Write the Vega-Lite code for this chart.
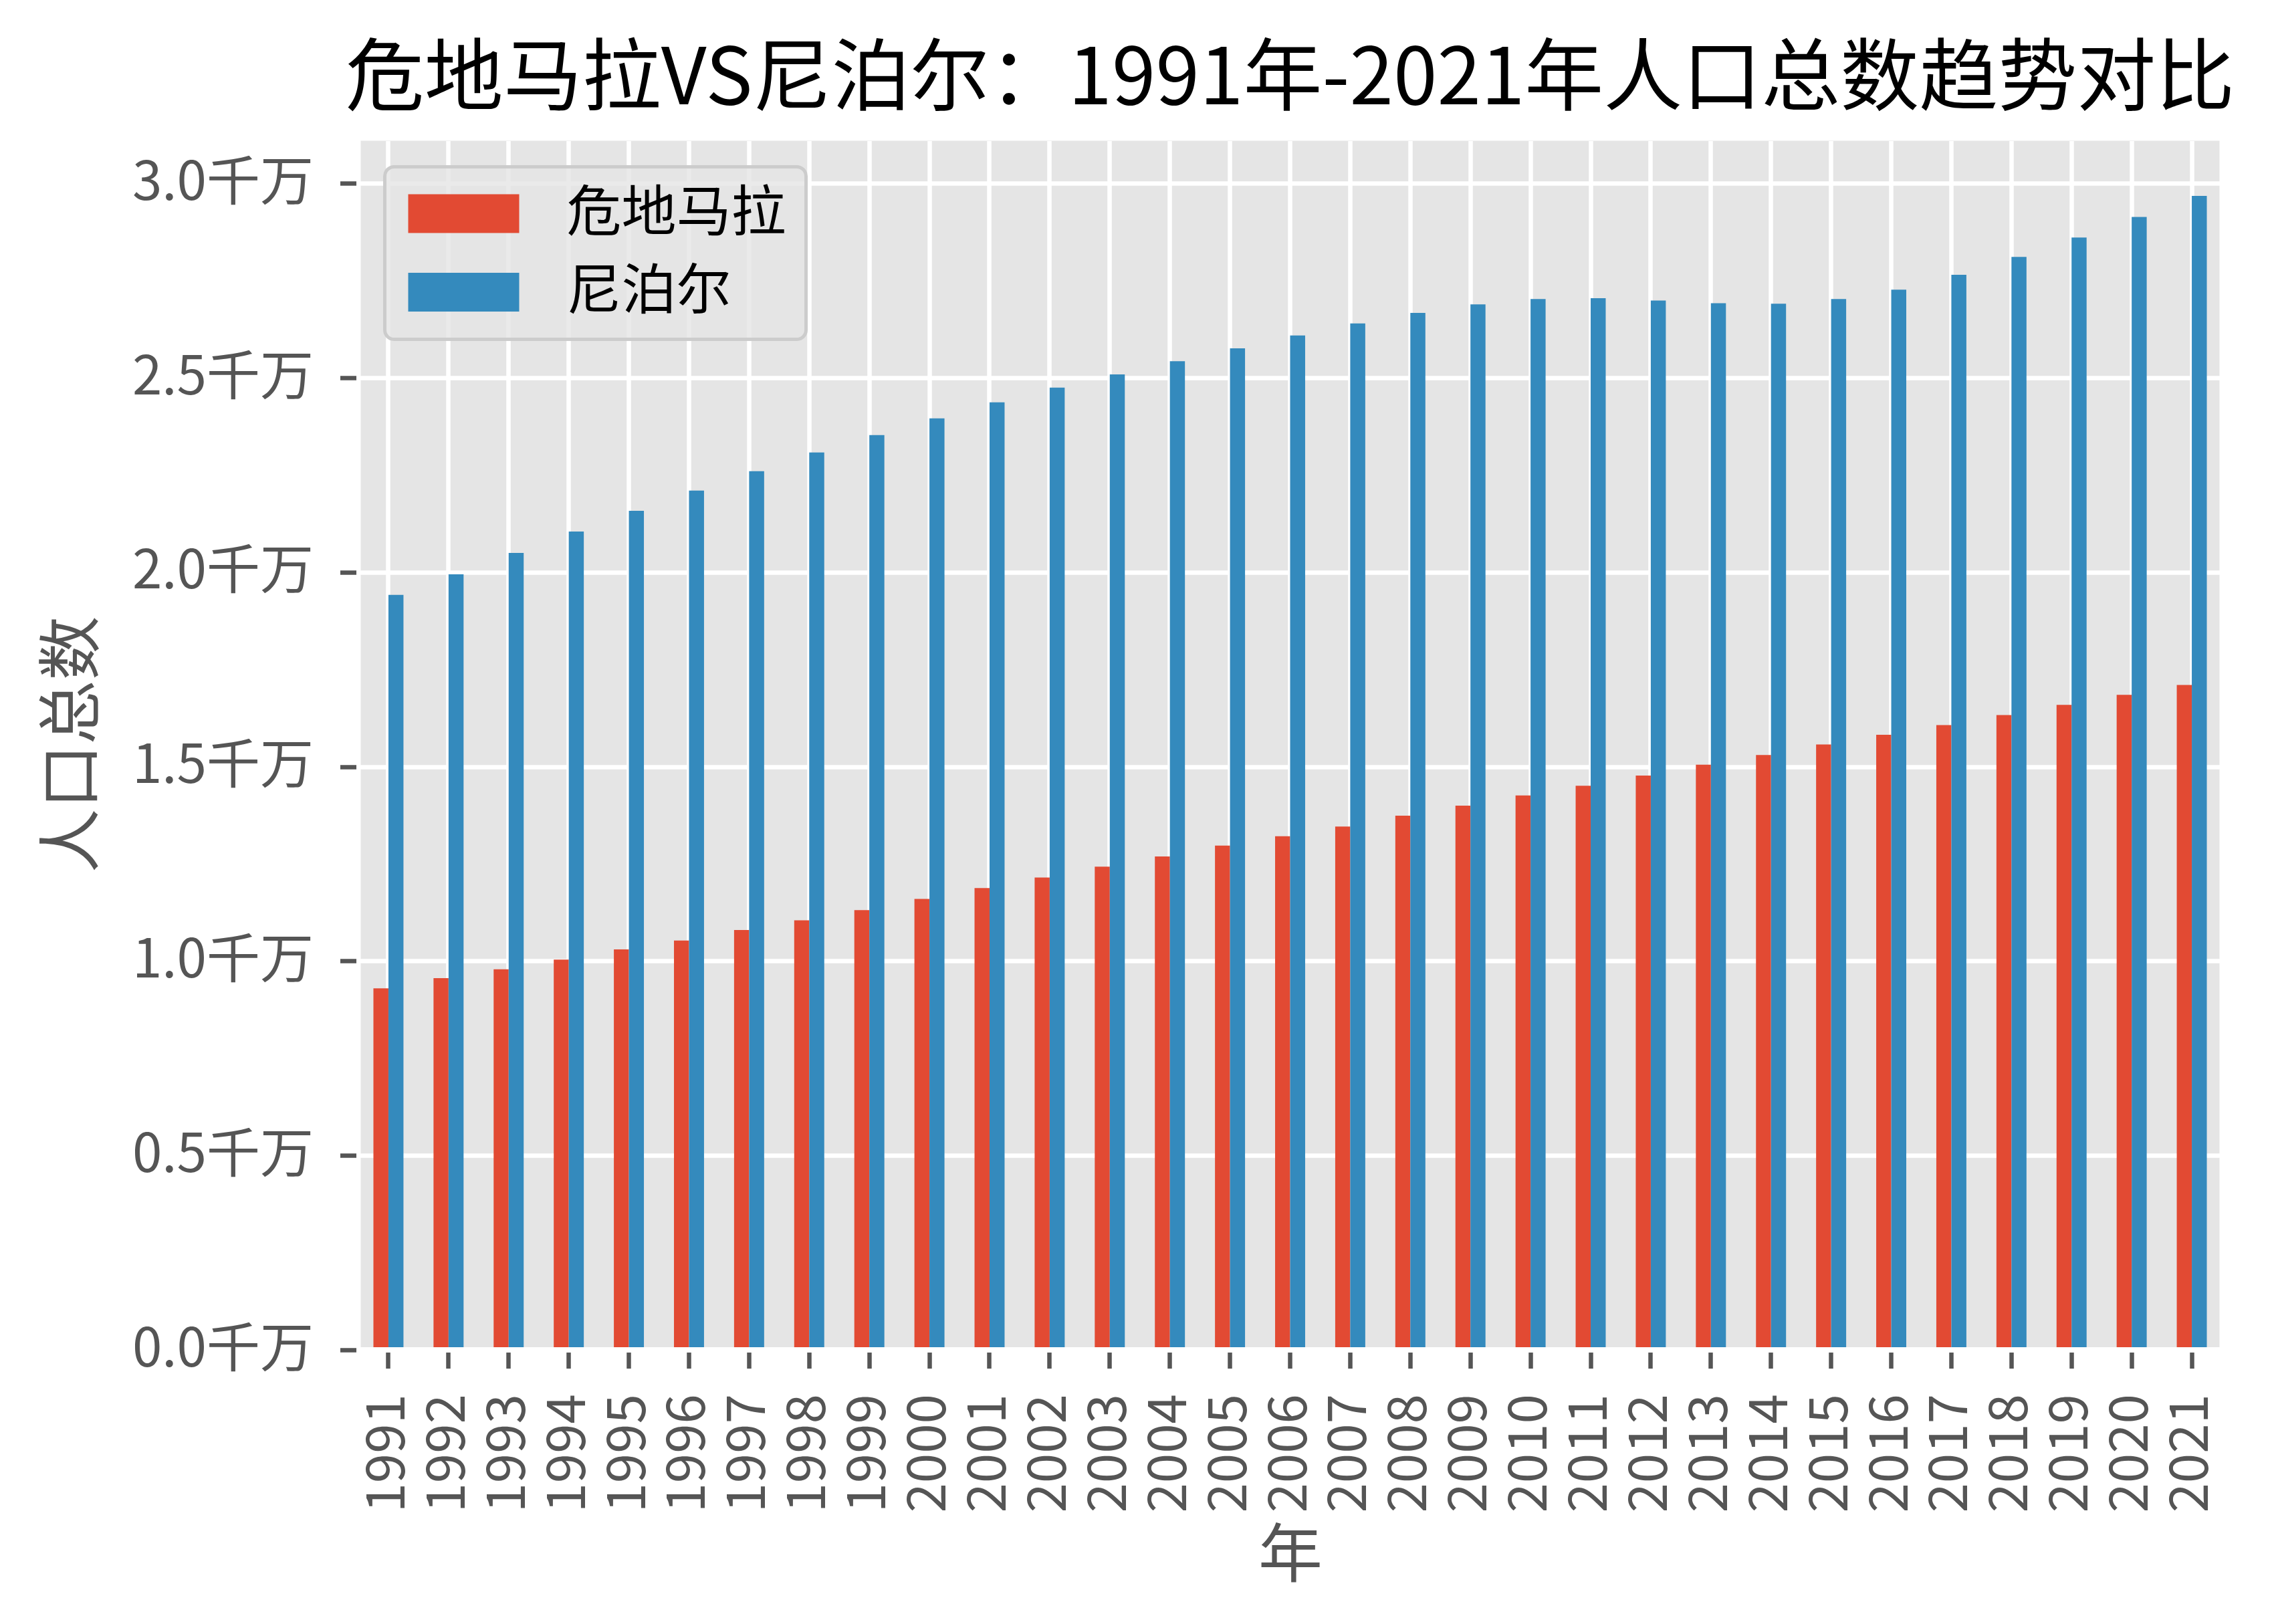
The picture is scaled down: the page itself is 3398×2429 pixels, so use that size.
{
  "$schema": "https://vega.github.io/schema/vega-lite/v6.json",
  "width": 2787,
  "height": 1812,
  "autosize": {"type": "none"},
  "padding": {"left": 536, "top": 207, "right": 75, "bottom": 410},
  "background": "#FFFFFF",
  "title": {
    "text": "危地马拉VS尼泊尔：1991年-2021年人口总数趋势对比",
    "font": "Noto Sans CJK SC",
    "fontSize": 118,
    "fontWeight": "normal",
    "color": "#000000",
    "anchor": "middle",
    "offset": 26
  },
  "config": {
    "view": {"fill": "#E5E5E5", "stroke": "#FFFFFF", "strokeWidth": 7},
    "axis": {
      "domain": false,
      "gridColor": "#FFFFFF",
      "gridWidth": 6.5,
      "gridOpacity": 1,
      "tickColor": "#555555",
      "tickSize": 24,
      "tickWidth": 6.5,
      "labelColor": "#555555",
      "labelFont": "Noto Sans CJK SC",
      "labelFontSize": 80,
      "labelLimit": 0,
      "titleFont": "Noto Sans CJK SC",
      "titleFontSize": 96,
      "titleColor": "#555555",
      "titleFontWeight": "normal",
      "offset": 3.5
    },
    "legend": {
      "orient": "none",
      "legendX": 39.5,
      "legendY": 42.5,
      "padding": 29,
      "fillColor": "rgba(229,229,229,0.8)",
      "strokeColor": "#CCCCCC",
      "strokeWidth": 5,
      "cornerRadius": 14,
      "symbolType": "M-0.8537,-0.7073H3.195V0.7073H-0.8537Z",
      "symbolSize": 6724,
      "symbolStrokeWidth": 0,
      "symbolOpacity": 1,
      "labelFont": "Noto Sans CJK SC",
      "labelFontSize": 82,
      "labelColor": "#000000",
      "labelLimit": 0,
      "labelOffset": 161,
      "rowPadding": 35.5
    }
  },
  "data": {
    "values": [
      {"year": 1991, "country": "危地马拉", "population": 9300000},
      {"year": 1992, "country": "危地马拉", "population": 9560000},
      {"year": 1993, "country": "危地马拉", "population": 9790000},
      {"year": 1994, "country": "危地马拉", "population": 10040000},
      {"year": 1995, "country": "危地马拉", "population": 10300000},
      {"year": 1996, "country": "危地马拉", "population": 10530000},
      {"year": 1997, "country": "危地马拉", "population": 10800000},
      {"year": 1998, "country": "危地马拉", "population": 11050000},
      {"year": 1999, "country": "危地马拉", "population": 11310000},
      {"year": 2000, "country": "危地马拉", "population": 11600000},
      {"year": 2001, "country": "危地马拉", "population": 11880000},
      {"year": 2002, "country": "危地马拉", "population": 12150000},
      {"year": 2003, "country": "危地马拉", "population": 12430000},
      {"year": 2004, "country": "危地马拉", "population": 12690000},
      {"year": 2005, "country": "危地马拉", "population": 12970000},
      {"year": 2006, "country": "危地马拉", "population": 13210000},
      {"year": 2007, "country": "危地马拉", "population": 13460000},
      {"year": 2008, "country": "危地马拉", "population": 13740000},
      {"year": 2009, "country": "危地马拉", "population": 14000000},
      {"year": 2010, "country": "危地马拉", "population": 14260000},
      {"year": 2011, "country": "危地马拉", "population": 14510000},
      {"year": 2012, "country": "危地马拉", "population": 14770000},
      {"year": 2013, "country": "危地马拉", "population": 15050000},
      {"year": 2014, "country": "危地马拉", "population": 15300000},
      {"year": 2015, "country": "危地马拉", "population": 15570000},
      {"year": 2016, "country": "危地马拉", "population": 15820000},
      {"year": 2017, "country": "危地马拉", "population": 16070000},
      {"year": 2018, "country": "危地马拉", "population": 16330000},
      {"year": 2019, "country": "危地马拉", "population": 16590000},
      {"year": 2020, "country": "危地马拉", "population": 16850000},
      {"year": 2021, "country": "危地马拉", "population": 17100000},
      {"year": 1991, "country": "尼泊尔", "population": 19420000},
      {"year": 1992, "country": "尼泊尔", "population": 19950000},
      {"year": 1993, "country": "尼泊尔", "population": 20500000},
      {"year": 1994, "country": "尼泊尔", "population": 21050000},
      {"year": 1995, "country": "尼泊尔", "population": 21580000},
      {"year": 1996, "country": "尼泊尔", "population": 22100000},
      {"year": 1997, "country": "尼泊尔", "population": 22600000},
      {"year": 1998, "country": "尼泊尔", "population": 23080000},
      {"year": 1999, "country": "尼泊尔", "population": 23530000},
      {"year": 2000, "country": "尼泊尔", "population": 23960000},
      {"year": 2001, "country": "尼泊尔", "population": 24370000},
      {"year": 2002, "country": "尼泊尔", "population": 24750000},
      {"year": 2003, "country": "尼泊尔", "population": 25090000},
      {"year": 2004, "country": "尼泊尔", "population": 25430000},
      {"year": 2005, "country": "尼泊尔", "population": 25760000},
      {"year": 2006, "country": "尼泊尔", "population": 26090000},
      {"year": 2007, "country": "尼泊尔", "population": 26400000},
      {"year": 2008, "country": "尼泊尔", "population": 26670000},
      {"year": 2009, "country": "尼泊尔", "population": 26890000},
      {"year": 2010, "country": "尼泊尔", "population": 27030000},
      {"year": 2011, "country": "尼泊尔", "population": 27050000},
      {"year": 2012, "country": "尼泊尔", "population": 26990000},
      {"year": 2013, "country": "尼泊尔", "population": 26920000},
      {"year": 2014, "country": "尼泊尔", "population": 26910000},
      {"year": 2015, "country": "尼泊尔", "population": 27030000},
      {"year": 2016, "country": "尼泊尔", "population": 27270000},
      {"year": 2017, "country": "尼泊尔", "population": 27650000},
      {"year": 2018, "country": "尼泊尔", "population": 28110000},
      {"year": 2019, "country": "尼泊尔", "population": 28610000},
      {"year": 2020, "country": "尼泊尔", "population": 29140000},
      {"year": 2021, "country": "尼泊尔", "population": 29680000}
    ]
  },
  "layer": [
    {
      "mark": {"type": "bar"},
      "encoding": {
        "x": {
          "field": "year",
          "type": "ordinal",
          "scale": {"paddingInner": 0.5, "paddingOuter": 0.25},
          "axis": {"title": "年", "labelAngle": 270, "labelPadding": 38, "titlePadding": 59, "grid": true, "bandPosition": 0.5}
        },
        "xOffset": {
          "field": "country",
          "type": "nominal",
          "sort": ["危地马拉", "尼泊尔"],
          "scale": {"paddingInner": 0, "paddingOuter": 0}
        },
        "y": {
          "field": "population",
          "type": "quantitative",
          "scale": {"domain": [0, 31160000], "nice": false, "zero": true},
          "axis": {
            "title": "人口总数",
            "values": [0, 5000000, 10000000, 15000000, 20000000, 25000000, 30000000],
            "labelExpr": "format(datum.value / 10000000, '.1f') + '千万'",
            "labelPadding": 40,
            "titlePadding": 174,
            "grid": true
          }
        },
        "color": {
          "field": "country",
          "type": "nominal",
          "sort": ["危地马拉", "尼泊尔"],
          "scale": {"domain": ["危地马拉", "尼泊尔"], "range": ["#E24A33", "#348ABD"]},
          "legend": {"title": null}
        }
      }
    },
    {
      "mark": {"type": "rule", "color": "#FFFFFF", "strokeWidth": 7},
      "encoding": {"y": {"datum": 0}}
    }
  ]
}
